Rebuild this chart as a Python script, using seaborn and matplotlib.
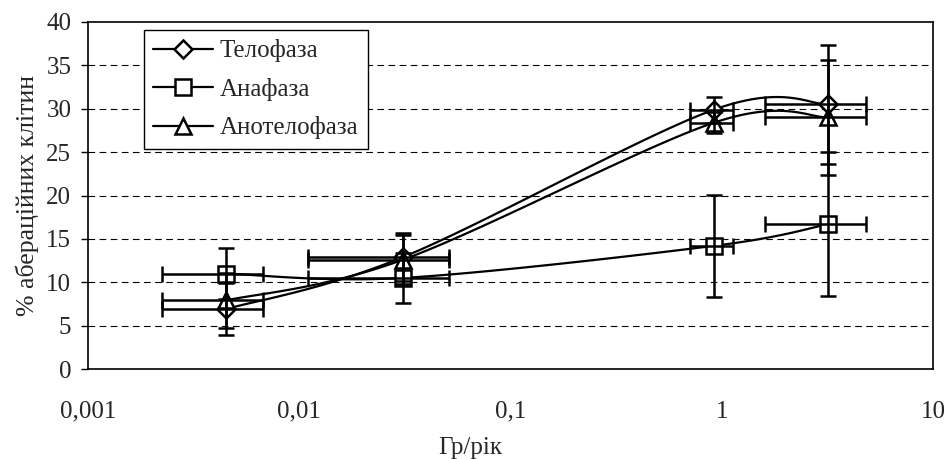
import numpy as np
import seaborn as sns
import matplotlib.pyplot as plt
from matplotlib.lines import Line2D

# dose (Gy/year) and its spread
dose = [0.0045, 0.031, 0.92, 3.2]
dose_err = [0.00225, 0.02, 0.21, 1.6]

# % aberrant cells per phase, with error
telo = [6.9, 12.9, 29.9, 30.5]
telo_err = [3.0, 2.8, 1.5, 6.9]
ana = [11.0, 10.5, 14.2, 16.7]
ana_err = [2.9, 2.9, 5.9, 8.3]
anotelo = [7.9, 12.6, 28.4, 29.0]
anotelo_err = [3.2, 2.8, 1.2, 6.6]

series = [("Телофаза", telo, telo_err, "D", 9),
          ("Анафаза", ana, ana_err, "s", 11),
          ("Анотелофаза", anotelo, anotelo_err, "^", 12)]

xticks = [0.001, 0.01, 0.1, 1, 10]
xticklabels = ["0,001", "0,01", "0,1", "1", "10"]

sns.set_theme(style="white")
plt.rcParams['font.family'] = ['Liberation Serif', 'DejaVu Serif']
plt.rcParams['font.size'] = 18

fig = plt.figure(figsize=(9.45, 4.59), dpi=100)
ax = fig.add_axes([88/945, 1 - 369/459, 845/945, 347/459])
ax.set_xscale('log')
ax.set_xlim(0.001, 10)
ax.set_ylim(0, 40)


def smooth(xs, ys, n=40):
    # excel-like smoothed line: catmull-rom in screen space
    pts = ax.transData.transform(np.column_stack([xs, ys]))
    p = np.vstack([pts[0], pts, pts[-1]])
    out = []
    t = np.linspace(0, 1, n)[:, None]
    for i in range(1, len(p) - 2):
        p0, p1, p2, p3 = p[i - 1], p[i], p[i + 1], p[i + 2]
        c1 = p1 + (p2 - p0) / 6
        c2 = p2 - (p3 - p1) / 6
        seg = ((1 - t) ** 3) * p1 + 3 * ((1 - t) ** 2) * t * c1 + 3 * (1 - t) * t ** 2 * c2 + t ** 3 * p2
        out.append(seg)
    out = np.vstack(out)
    d = ax.transData.inverted().transform(out)
    return d[:, 0], d[:, 1]


handles = []
for name, vals, err, mk, ms in series:
    sx, sy = smooth(dose, vals)
    sns.lineplot(x=sx, y=sy, ax=ax, color='black', lw=1.6, sort=False,
                 estimator=None, zorder=3)
    ax.plot(dose, vals, ls='none', marker=mk, ms=ms, mfc='white', mec='black',
            mew=1.8, zorder=4)
    ax.errorbar(dose, vals, yerr=err, xerr=dose_err, fmt='none', ecolor='black',
                elinewidth=1.8, capsize=6, capthick=1.8, zorder=5)
    handles.append(Line2D([], [], color='black', lw=1.6, marker=mk, ms=ms,
                          mfc='white', mec='black', mew=1.8, label=name))

for yv in range(5, 40, 5):
    ax.axhline(yv, color='black', lw=0.8, ls=(0, (6, 4)), zorder=1)

ax.set_xticks(xticks)
ax.set_xticklabels(xticklabels)
ax.xaxis.set_minor_locator(plt.NullLocator())
ax.set_yticks(range(0, 41, 5))
ax.tick_params(axis='x', direction='out', length=4, width=1, color='black',
               pad=19, labelsize=18)
ax.tick_params(axis='y', direction='out', length=5, width=1, color='black',
               pad=7, labelsize=18, left=True)
for sp in ax.spines.values():
    sp.set_color('black')
    sp.set_linewidth(1.2)

ax.set_xlabel("Гр/рік", fontsize=18)
ax.xaxis.set_label_coords((470 - 88) / 845, -0.195)
ax.set_ylabel("% аберацій­них клітин".replace('\u00ad', ''), fontsize=18.5, labelpad=5)

leg = ax.legend(handles=handles, loc='upper left', bbox_to_anchor=(0.066, 0.977),
                borderaxespad=0, fancybox=False, frameon=True, edgecolor='black',
                framealpha=1, handlelength=2.4, handletextpad=0.25,
                labelspacing=0.62, borderpad=0.38, fontsize=18)
leg.get_frame().set_linewidth(1.0)

fig.savefig('out.png', dpi=100)
